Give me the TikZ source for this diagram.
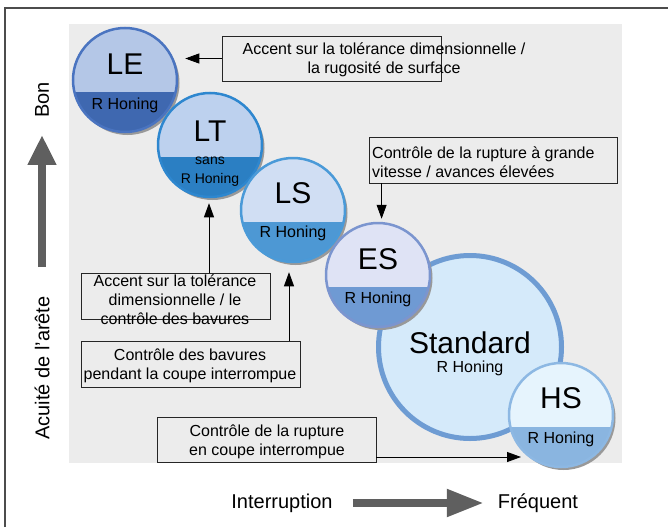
\documentclass[tikz,border=0pt]{standalone}
\usepackage{fontspec}
\setmainfont{Liberation Sans}
\usetikzlibrary{arrows.meta,positioning,shadows}

\definecolor{panel}{HTML}{ECECEC}
\definecolor{leTop}{HTML}{B4C7E7}
\definecolor{leBot}{HTML}{3F68B0}
\definecolor{leRim}{HTML}{4A74C0}
\definecolor{ltTop}{HTML}{BDD1EE}
\definecolor{ltBot}{HTML}{2B7FC3}
\definecolor{ltRim}{HTML}{2E87CF}
\definecolor{lsTop}{HTML}{D0DEF3}
\definecolor{lsBot}{HTML}{4D98D4}
\definecolor{lsRim}{HTML}{4A9AD8}
\definecolor{esTop}{HTML}{DFE3F5}
\definecolor{esBot}{HTML}{6F9AD3}
\definecolor{esRim}{HTML}{7B95CF}
\definecolor{stdFill}{HTML}{D5EAFA}
\definecolor{stdRim}{HTML}{6E9CD3}
\definecolor{hsTop}{HTML}{E6F4FD}
\definecolor{hsBot}{HTML}{8AB5E0}
\definecolor{hsRim}{HTML}{8DB8E3}
\definecolor{axisgray}{HTML}{5F5F5F}

\begin{document}
\begin{tikzpicture}[x=1pt,y=-1pt,
  disc/.style={circle, inner sep=0pt, minimum size=104pt, line width=2.5pt,
    drop shadow={shadow xshift=2.5pt, shadow yshift=-3pt, fill=black!40, opacity=1}},
  half/.style={path picture={\fill[#1] ([yshift=-12pt]path picture bounding box.west)
    rectangle (path picture bounding box.south east);}},
  bigtxt/.style={inner sep=0pt, font=\fontsize{30}{32}\selectfont},
  subtxt/.style={inner sep=0pt, font=\fontsize{16}{19}\selectfont},
  box/.style={draw=black!85, line width=0.8pt, inner sep=0pt},
  boxtxt/.style={inner sep=0pt, align=center, font=\fontsize{16}{19}\selectfont},
  tip/.style={draw=black, line width=0.8pt, -{Triangle[length=14pt,width=10pt]}},
  axistxt/.style={inner sep=0pt, font=\fontsize{20}{22}\selectfont},
  bigarrow/.style={draw=axisgray, line width=8.5pt}]
\useasboundingbox (0,0) rectangle (668,527);
\fill[panel] (69,24) rectangle (622,463);
\draw[line width=1.2pt, black!70] (5,527) -- (5,8) -- (668,8);

% circles
\node[disc, fill=leTop, draw=leRim, half=leBot] (le) at (125,80) {};
\node[bigtxt] (le-name) at ([yshift=16pt]le.center) {LE};
\node[subtxt] (le-sub) at ([yshift=-25pt]le.center) {R Honing};

\node[disc, fill=ltTop, draw=ltRim, half=ltBot] (lt) at (210,145) {};
\node[bigtxt] (lt-name) at ([yshift=14pt]lt.center) {LT};
\node[subtxt, align=center, font=\fontsize{14}{19}\selectfont] (lt-sub) at ([yshift=-27pt]lt.center) {sans\\R Honing};

\node[disc, fill=lsTop, draw=lsRim, half=lsBot] (ls) at (293,210) {};
\node[bigtxt] (ls-name) at ([yshift=17pt]ls.center) {LS};
\node[subtxt] (ls-sub) at ([yshift=-23pt]ls.center) {R Honing};

\node[circle, inner sep=0pt, minimum size=183pt, line width=5pt, fill=stdFill, draw=stdRim] (std) at (470,347) {};
\node[bigtxt] (std-name) at ([yshift=4pt]std.center) {Standard};
\node[subtxt] (std-sub) at ([yshift=-21pt]std.center) {R Honing};

\node[disc, fill=esTop, draw=esRim, half=esBot] (es) at (378,275) {};
\node[bigtxt] (es-name) at ([yshift=16pt]es.center) {ES};
\node[subtxt] (es-sub) at ([yshift=-24pt]es.center) {R Honing};

\node[disc, fill=hsTop, draw=hsRim, half=hsBot] (hs) at (561,415) {};
\node[bigtxt] (hs-name) at ([yshift=17pt]hs.center) {HS};
\node[subtxt] (hs-sub) at ([yshift=-24pt]hs.center) {R Honing};

% boxes
\node[box, minimum width=219pt, minimum height=45pt] (b1) at (331.5,58.5) {};
\node[boxtxt] (t1) at (384,60) {Accent sur la tolérance dimensionnelle /\\la rugosité de surface};
\node[box, minimum width=248pt, minimum height=46pt] (b2) at (493,160) {};
\node[boxtxt, align=left, anchor=west] (t2) at (372,162) {Contrôle de la rupture à grande\\vitesse / avances élevées};
\node[box, minimum width=189pt, minimum height=46pt] (b3) at (175.5,296) {};
\node[boxtxt] (t3) at (175,300) {Accent sur la tolérance\\dimensionnelle / le\\contrôle des bavures};
\node[box, minimum width=219pt, minimum height=46pt] (b4) at (190.5,364) {};
\node[boxtxt] (t4) at (190,366) {Contrôle des bavures\\pendant la coupe interrompue};
\node[box, minimum width=219pt, minimum height=45pt] (b5) at (266.5,439.5) {};
\node[boxtxt] (t5) at (267,442) {Contrôle de la rupture\\en coupe interrompue};

% arrows to the circles
\draw[tip] (b1.west) -- ([xshift=7pt]b1.west -| le.east);
\draw[tip, shorten >=3pt] ([xshift=13pt]b2.south west) -- ([xshift=13pt]b2.south west |- es.north);
\draw[tip, shorten >=5pt] ([xshift=33.5pt]b3.north) -- ([xshift=33.5pt]b3.north |- lt.south);
\draw[tip, shorten >=9pt] ([xshift=98.5pt]b4.north) -- ([xshift=98.5pt]b4.north |- ls.south);
\coordinate (hs-in) at (521,457);
\draw[tip] ([yshift=-17.5pt]b5.east) -- (hs-in);

% axes
\node[axistxt, rotate=90] (bon) at (42,100) {Bon};
\node[axistxt, rotate=90] (acuite) at (42,368) {Acuité de l'arête};
\draw[bigarrow, -{Triangle[length=30pt,width=27pt]}, shorten <=29pt, shorten >=17pt] (acuite.east) -- (bon.west);
\node[axistxt] (intr) at (282,503) {Interruption};
\node[axistxt] (freq) at (538,503) {Fréquent};
\draw[bigarrow, line width=8pt, -{Triangle[length=37pt,width=26pt]}, shorten <=20pt, shorten >=14pt] (intr.east) -- (freq.west);
\end{tikzpicture}
\end{document}
